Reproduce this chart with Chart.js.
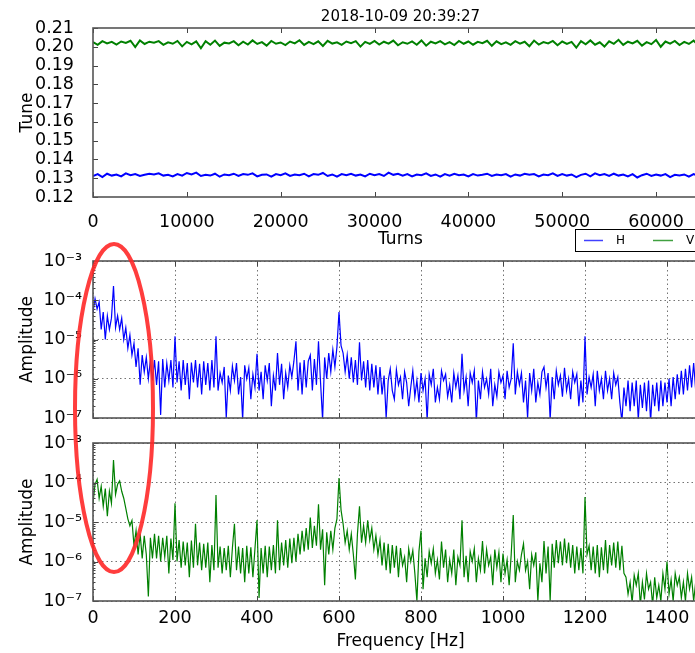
<!DOCTYPE html>
<html>
<head>
<meta charset="utf-8">
<script src="https://cdn.jsdelivr.net/npm/chart.js@4"></script>
<style>
  html, body { margin: 0; padding: 0; background: #fff; overflow: hidden; width: 695px; height: 653px; }
  canvas { position: absolute; left: 0; top: 0; }
</style>
</head>
<body>
<canvas id="tune" width="760" height="670"></canvas>
<canvas id="specH" width="760" height="670"></canvas>
<canvas id="specV" width="760" height="670"></canvas>
<script>
// tune vs turns, one sample every 500 turns
const turnStep = 500
const turnTicks = [0, 10000, 20000, 30000, 40000, 50000, 60000]
const tuneTicks = [0.12, 0.13, 0.14, 0.15, 0.16, 0.17, 0.18, 0.19, 0.20, 0.21]

const tuneV = [0.2025,0.2010,0.2030,0.2018,0.2026,0.2012,0.2028,0.2020,0.2032,0.1998,0.2034,0.2015,0.2027,0.2022,0.2030,0.2010,0.2024,0.2016,0.2031,0.2002,
  0.2026,0.2013,0.2029,0.1992,0.2030,0.2011,0.2033,0.2005,0.2022,0.2018,0.2030,0.2008,0.2027,0.2012,0.2034,0.2015,0.2025,0.2006,0.2031,0.2016,
  0.2023,0.2009,0.2028,0.2018,0.2035,0.2010,0.2026,0.2014,0.2029,0.2004,0.2032,0.2017,0.2024,0.2010,0.2028,0.2019,0.2030,0.2001,0.2026,0.2015,
  0.2031,0.2012,0.2027,0.2017,0.2033,0.2008,0.2024,0.2016,0.2029,0.2011,0.2034,0.2006,0.2027,0.2018,0.2030,0.2013,0.2025,0.2009,0.2031,0.2016,
  0.2028,0.2011,0.2026,0.2019,0.2032,0.2005,0.2029,0.2014,0.2024,0.2010,0.2030,0.2017,0.2027,0.2003,0.2033,0.2012,0.2025,0.2018,0.2031,0.2008,
  0.2028,0.2015,0.2026,0.1995,0.2030,0.2013,0.2034,0.2011,0.2024,0.2001,0.2029,0.2016,0.2037,0.2010,0.2027,0.2018,0.2032,0.2006,0.2025,0.2014,
  0.2036,0.2000,0.2028,0.2017,0.2031,0.2009,0.2026,0.2015,0.2033,0.2007,0.2029,0.2016]

const tuneH = [0.1312,0.1322,0.1306,0.1324,0.1314,0.1320,0.1310,0.1326,0.1316,0.1322,0.1312,0.1318,0.1324,0.1320,0.1326,0.1314,0.1318,0.1310,0.1322,0.1314,
  0.1328,0.1320,0.1330,0.1312,0.1318,0.1314,0.1324,0.1308,0.1320,0.1316,0.1324,0.1312,0.1322,0.1318,0.1326,0.1310,0.1318,0.1320,0.1308,0.1322,
  0.1316,0.1326,0.1312,0.1320,0.1316,0.1324,0.1310,0.1322,0.1318,0.1328,0.1312,0.1320,0.1308,0.1322,0.1316,0.1324,0.1314,0.1320,0.1310,0.1324,
  0.1316,0.1322,0.1312,0.1330,0.1318,0.1324,0.1314,0.1322,0.1310,0.1320,0.1316,0.1326,0.1312,0.1320,0.1308,0.1322,0.1314,0.1324,0.1316,0.1320,
  0.1310,0.1322,0.1314,0.1318,0.1324,0.1312,0.1320,0.1316,0.1322,0.1308,0.1320,0.1314,0.1324,0.1318,0.1322,0.1310,0.1320,0.1316,0.1326,0.1312,
  0.1322,0.1314,0.1320,0.1306,0.1318,0.1324,0.1310,0.1326,0.1316,0.1322,0.1312,0.1324,0.1314,0.1320,0.1310,0.1322,0.1304,0.1316,0.1324,0.1312,
  0.1320,0.1314,0.1322,0.1306,0.1318,0.1314,0.1320,0.1308,0.1322,0.1312,0.1318,0.1310]

// spectra, one sample every 5 Hz (0 .. 1500 Hz)
const freqStep = 5
const freqTicks = [0, 200, 400, 600, 800, 1000, 1200, 1400]
const ampTicks = [1e-7, 1e-6, 1e-5, 1e-4, 1e-3]

const ampH = [
  5e-5,1.1e-4,6e-5,9e-5,1.8e-5,5e-5,1.0e-5,4e-5,1.8e-5,3.5e-5,
  2.3e-4,2e-5,4e-5,1.8e-5,3.5e-5,1.0e-5,2e-5,6e-6,1.3e-5,4e-6,
  8e-6,2e-6,6e-6,7e-7,4e-6,1.5e-6,3.5e-6,1e-6,3e-6,9e-7,
  3e-6,7e-7,2.8e-6,1.2e-7,3.2e-6,6e-7,2.5e-6,9e-7,3e-6,6e-7,
  1.2e-5,8e-7,2.8e-6,5e-7,3e-6,7e-7,2.5e-6,3e-7,2.6e-6,8e-7,
  3e-6,6e-7,2.4e-6,4e-7,2.8e-6,7e-7,2.5e-6,5e-7,3e-6,6e-7,
  1.2e-5,5e-7,1.4e-6,8e-7,2e-6,1e-7,1.2e-6,5e-7,2.1e-6,9e-7,
  2.5e-6,4e-7,1.1e-6,9e-8,2.2e-6,1.0e-6,1.9e-6,3e-7,1.3e-6,6e-7,
  4.3e-6,5e-7,1.5e-6,3e-7,2.2e-6,9e-7,2.5e-6,2e-7,1.2e-6,5e-7,
  4.5e-6,7e-7,2.4e-6,3e-7,1.4e-6,6e-7,2.2e-6,1.1e-6,2.8e-6,9e-6,
  5e-7,2.6e-6,4e-7,3e-6,6e-7,2.8e-6,4e-6,5e-7,3.2e-6,7e-7,
  9e-6,8e-7,9e-8,3.5e-6,1e-6,4.5e-6,1.5e-6,5.5e-6,2e-6,6.5e-6,
  5e-5,7e-6,4.5e-6,1.5e-6,4e-6,1e-6,3.5e-6,8e-7,3e-6,7e-7,
  8.5e-6,9e-7,2.8e-6,6e-7,3e-6,5e-7,2.4e-6,6e-7,2.2e-6,4e-7,
  2e-6,4e-7,1.2e-6,1e-7,9e-7,1.8e-6,5e-7,3e-7,1.7e-6,7e-7,
  1.1e-6,3e-7,1.5e-6,8e-7,2e-7,6e-7,1.6e-6,3.5e-7,9e-7,2.5e-7,
  1.4e-6,5e-7,1.0e-6,9e-8,1.3e-6,7e-7,1.8e-6,2.5e-7,6e-7,3e-7,
  1.6e-6,9e-7,1.3e-6,3.5e-7,7e-7,2.5e-7,1.4e-6,6e-7,1.2e-6,3e-7,
  4.3e-6,5e-7,1.1e-6,2e-7,1.4e-6,8e-7,1.6e-6,8e-8,9e-7,3e-7,
  1.5e-6,6e-7,1.0e-6,4e-7,1.8e-6,2e-7,7e-7,3.5e-7,1.5e-6,8e-7,
  1.2e-6,3e-7,1.6e-6,6e-7,1.0e-6,8e-6,4e-7,1.5e-6,7e-7,1.4e-6,
  2.5e-7,9e-7,1e-7,1.4e-6,5e-7,1.8e-6,2.5e-7,8e-7,4e-7,1.5e-6,
  2e-6,6e-7,1.4e-6,9e-8,1.1e-6,3e-7,1.6e-6,7e-7,1.2e-6,3.5e-7,
  1.9e-6,5e-7,1.0e-6,3e-7,1.5e-6,8e-7,1.3e-6,2e-7,9e-7,2.5e-7,
  1.2e-5,4e-7,1.1e-6,6e-7,1.3e-6,2e-7,1.6e-6,5e-7,1.0e-6,3e-7,
  1.6e-6,5e-7,1.0e-6,3e-7,1.4e-6,7e-7,1.1e-6,2.5e-7,8e-8,6e-7,
  2e-7,9e-7,1.5e-7,8e-7,2e-7,9e-7,9e-8,7e-7,1.8e-7,8e-7,
  1.5e-7,9e-7,8e-8,7e-7,2e-7,8e-7,1.5e-7,9e-7,2e-7,8e-7,
  2.5e-7,1.0e-6,2e-7,1.1e-6,3e-7,1.3e-6,4e-7,1.6e-6,4e-7,1.8e-6,
  5e-7,2.2e-6,6e-7,2.5e-6,5e-7,2.4e-6,7e-7,2.6e-6,6e-7,2.2e-6,
  8e-7]

const ampV = [
  3e-5,9e-5,1.2e-4,4e-5,8e-5,2.5e-5,7e-5,1.4e-5,6e-5,3e-5,
  3.7e-4,5e-5,9e-5,1.1e-4,6e-5,4e-5,2.2e-5,1.2e-5,8e-6,1.1e-5,
  2.5e-6,6e-6,1.5e-6,5e-6,1.2e-6,4.5e-6,1.5e-6,1.3e-7,4e-6,1.2e-6,
  5e-6,1.2e-6,4.5e-6,1.0e-6,4e-6,1.3e-6,4.5e-6,5e-7,3.8e-6,1.1e-6,
  3e-5,1e-6,3.5e-6,7e-7,3.2e-6,8e-7,3e-6,4e-7,3.4e-6,7e-7,
  9e-6,8e-7,3e-6,6e-7,2.8e-6,7e-7,3e-6,3e-7,2.6e-6,6e-7,
  4.8e-5,7e-7,2.4e-6,5e-7,2.2e-6,6e-7,2.5e-6,4e-7,2.2e-6,9e-6,
  6e-7,2.4e-6,5e-7,2.2e-6,3e-7,2.5e-6,5e-7,2.3e-6,4e-7,2.1e-6,
  1.1e-5,1.2e-7,2.2e-6,5e-7,2.5e-6,4e-7,2.4e-6,6e-7,2.6e-6,5e-7,
  1.1e-5,6e-7,3e-6,8e-7,3.5e-6,7e-7,3.8e-6,9e-7,4e-6,1e-6,
  5e-6,1.5e-6,6e-6,1.8e-6,7e-6,2e-6,1.3e-5,2.2e-6,8e-6,2.5e-6,
  2.8e-5,2e-6,6.5e-6,2.5e-7,5.5e-6,1.5e-6,6e-6,2e-6,7e-6,1.2e-5,
  1.3e-4,2e-5,9e-6,3e-6,6e-6,2e-6,5e-6,1.5e-6,3.5e-7,5e-6,
  2.5e-5,3e-6,8e-6,3e-6,1.1e-5,3.5e-6,7e-6,2e-6,4.5e-6,1.5e-6,
  3.5e-6,8e-7,3e-6,6e-7,2.8e-6,5e-7,2.6e-6,7e-7,2.5e-6,4e-7,
  2.2e-6,8e-7,1.3e-6,3e-7,2.1e-6,1.0e-6,1.9e-6,5e-7,1e-7,1.8e-6,
  6e-6,2e-7,1.2e-6,4e-7,1.8e-6,9e-7,2.1e-6,5e-7,1.1e-6,3.5e-7,
  3.2e-6,7e-7,2e-6,3e-7,1.1e-6,5e-7,2e-6,2.5e-7,1.3e-6,8e-7,
  1.1e-5,4e-7,1.4e-6,3e-7,1.8e-6,1.0e-6,2.1e-6,3e-7,1.2e-6,6e-7,
  3.3e-6,5e-7,2e-6,8e-7,1.3e-6,2.5e-7,2e-6,7e-7,1.7e-6,3e-7,
  1.6e-6,5e-7,1.1e-6,2.5e-7,1.5e-6,1.5e-5,3e-7,1.0e-6,6e-7,1.5e-6,
  2.8e-6,6e-7,1.0e-6,2e-7,1.5e-6,8e-7,1.7e-6,1e-7,9e-7,3e-7,
  3.3e-6,5e-7,2.4e-6,1e-7,2.8e-6,7e-7,3.5e-6,9e-7,3.2e-6,8e-7,
  3.8e-6,9e-7,3e-6,7e-7,2.6e-6,5e-7,2.4e-6,6e-7,2.2e-6,5e-7,
  4.3e-5,1.5e-6,2.5e-6,6e-7,2.4e-6,5e-7,2.6e-6,4e-7,2.3e-6,6e-7,
  3.5e-6,5e-7,2.6e-6,8e-7,3e-6,7e-7,3.2e-6,6e-7,2.5e-6,5e-7,
  4e-7,1.5e-7,3e-7,9e-8,4.5e-7,2.5e-7,5e-7,8e-8,3e-7,1.1e-7,
  5e-7,2e-7,3e-7,8e-8,4e-7,1.2e-7,2.5e-7,1e-7,5e-7,2e-7,
  1.0e-6,1.5e-7,3.5e-7,1e-7,5e-7,2.5e-7,4e-7,1.2e-7,3e-7,1e-7,
  5e-7,2e-7,4e-7,1e-7,3e-7,1.3e-7,6e-7,2e-7,3.5e-7,1.2e-7,
  5e-7]

const titulo = "2018-10-09 20:39:27"
const fuente = "DejaVu Sans"
const colorH = "#0000ff"
const colorV = "#008000"

const sup = { "-": "\u207b", "0": "\u2070", "1": "\u00b9", "2": "\u00b2", "3": "\u00b3", "4": "\u2074", "5": "\u2075", "6": "\u2076", "7": "\u2077", "8": "\u2078", "9": "\u2079" }
function etiquetaPotencia(v){
    const e = Math.round(Math.log10(v))
    return "10" + String(e).split("").map(c => sup[c]).join("")
}

// marco del eje + ticks hacia adentro
const marco = {
    id: "marco",
    afterDraw(chart, args, opts){
        const { ctx, chartArea: a, scales } = chart
        ctx.save()
        ctx.strokeStyle = "#444"
        ctx.lineWidth = 1
        ctx.beginPath()
        scales.x.ticks.forEach(t => {
            const px = Math.round(scales.x.getPixelForValue(t.value)) + 0.5
            ctx.moveTo(px, a.bottom); ctx.lineTo(px, a.bottom - 5)
            ctx.moveTo(px, a.top); ctx.lineTo(px, a.top + 5)
        })
        scales.y.ticks.forEach(t => {
            const py = Math.round(scales.y.getPixelForValue(t.value)) + 0.5
            ctx.moveTo(a.left, py); ctx.lineTo(a.left + 5, py)
            ctx.moveTo(a.right, py); ctx.lineTo(a.right - 5, py)
        })
        if (opts.menores) {
            ampTicks.slice(0, -1).forEach(d => {
                for (let k = 2; k < 10; k++) {
                    const py = Math.round(scales.y.getPixelForValue(d * k)) + 0.5
                    ctx.moveTo(a.left, py); ctx.lineTo(a.left + 2.5, py)
                    ctx.moveTo(a.right, py); ctx.lineTo(a.right - 2.5, py)
                }
            })
        }
        ctx.stroke()
        ctx.lineWidth = 1.6
        ctx.strokeStyle = "#555"
        ctx.strokeRect(a.left, a.top, a.right - a.left, a.bottom - a.top)
        ctx.restore()
    }
}

// titulo y leyenda del grafico superior
const decoracion = {
    id: "decoracion",
    afterDraw(chart){
        const { ctx, chartArea: a } = chart
        ctx.save()
        ctx.fillStyle = "#000"
        ctx.font = "15px '" + fuente + "'"
        ctx.textAlign = "center"
        ctx.textBaseline = "middle"
        ctx.fillText(titulo, (a.left + a.right) / 2, 17)

        ctx.fillStyle = "#fff"
        ctx.strokeStyle = "#000"
        ctx.lineWidth = 1
        ctx.fillRect(575.5, 229.5, 170, 22)
        ctx.strokeRect(575.5, 229.5, 170, 22)
        ctx.lineWidth = 1.5
        ctx.globalAlpha = 0.75
        ctx.strokeStyle = colorH
        ctx.beginPath(); ctx.moveTo(584, 240.5); ctx.lineTo(603, 240.5); ctx.stroke()
        ctx.strokeStyle = colorV
        ctx.beginPath(); ctx.moveTo(653, 240.5); ctx.lineTo(673, 240.5); ctx.stroke()
        ctx.globalAlpha = 1
        ctx.fillStyle = "#000"
        ctx.font = "12px '" + fuente + "'"
        ctx.textAlign = "left"
        ctx.fillText("H", 616, 241)
        ctx.fillText("V", 686, 241)
        ctx.restore()
    }
}

// elipse roja de anotacion
const elipse = {
    id: "elipse",
    afterDraw(chart){
        const ctx = chart.ctx
        ctx.save()
        ctx.strokeStyle = "rgba(255, 40, 40, 0.9)"
        ctx.lineWidth = 4
        ctx.beginPath()
        ctx.ellipse(114, 408, 39, 164, 0, 0, Math.PI * 2)
        ctx.stroke()
        ctx.restore()
    }
}

const fuenteTicks = { family: fuente, size: 17.5 }
const fuenteTitulo = { family: fuente, size: 17 }

function puntos(valores, paso){
    return valores.map((v, i) => ({ x: i * paso, y: v }))
}

new Chart(document.getElementById("tune"), {
    type: "line",
    data: {
        datasets: [
            { label: "V", data: puntos(tuneV, turnStep), borderColor: colorV, borderWidth: 2, pointRadius: 0 },
            { label: "H", data: puntos(tuneH, turnStep), borderColor: colorH, borderWidth: 2, pointRadius: 0 }
        ]
    },
    plugins: [marco, decoracion],
    options: {
        responsive: false,
        animation: false,
        layout: { padding: { left: 13, top: 28, right: 52, bottom: 416 } },
        plugins: { legend: { display: false }, tooltip: { enabled: false }, marco: {} },
        scales: {
            x: {
                type: "linear", min: 0, max: 65536,
                afterBuildTicks: s => { s.ticks = turnTicks.map(v => ({ value: v })) },
                afterFit: s => { s.height = 57 },
                grid: { display: false },
                border: { display: false },
                ticks: { font: fuenteTicks, color: "#000", padding: 7, maxRotation: 0, autoSkip: false, callback: v => String(v) },
                title: { display: true, text: "Turns", font: fuenteTitulo, color: "#000" }
            },
            y: {
                type: "linear", min: 0.12, max: 0.21,
                afterBuildTicks: s => { s.ticks = tuneTicks.map(v => ({ value: v })) },
                afterFit: s => { s.width = 80 },
                grid: { display: false },
                border: { display: false },
                ticks: { font: fuenteTicks, color: "#000", padding: 11, autoSkip: false, callback: v => v.toFixed(2) },
                title: { display: true, text: "Tune", font: fuenteTitulo, color: "#000" }
            }
        }
    }
})

function espectro(id, valores, color, arriba, abajo, conEtiquetas, extras){
    const altoX = 670 - abajo - (conEtiquetas ? 14 : 0)
    return new Chart(document.getElementById(id), {
        type: "line",
        data: { datasets: [ { data: puntos(valores, freqStep), borderColor: color, borderWidth: 1.2, pointRadius: 0 } ] },
        plugins: [marco].concat(extras),
        options: {
            responsive: false,
            animation: false,
            layout: { padding: { left: 13, top: arriba, right: 52, bottom: conEtiquetas ? 14 : 0 } },
            plugins: { legend: { display: false }, tooltip: { enabled: false }, marco: { menores: true } },
            scales: {
                x: {
                    type: "linear", min: 0, max: 1500,
                    afterBuildTicks: s => { s.ticks = freqTicks.map(v => ({ value: v })) },
                    afterFit: s => { s.height = altoX },
                    grid: { color: "rgba(0,0,0,0.55)", lineWidth: 1, drawTicks: false },
                    border: { display: false, dash: [1.5, 3] },
                    ticks: { display: conEtiquetas, font: fuenteTicks, color: "#000", padding: 7, maxRotation: 0, autoSkip: false, callback: v => String(v) },
                    title: { display: conEtiquetas, text: "Frequency [Hz]", font: fuenteTitulo, color: "#000" }
                },
                y: {
                    type: "logarithmic", min: 1e-7, max: 1e-3,
                    afterBuildTicks: s => { s.ticks = ampTicks.map(v => ({ value: v })) },
                    afterFit: s => { s.width = 80 },
                    grid: { color: "rgba(0,0,0,0.55)", lineWidth: 1, drawTicks: false },
                    border: { display: false, dash: [1.5, 3] },
                    ticks: { font: fuenteTicks, color: "#000", padding: 11, autoSkip: false, callback: v => etiquetaPotencia(v) },
                    title: { display: true, text: "Amplitude", font: fuenteTitulo, color: "#000" }
                }
            }
        }
    })
}

espectro("specH", ampH, colorH, 261, 418, false, [])
espectro("specV", ampV, colorV, 443, 601, true, [elipse])
</script>
</body>
</html>
